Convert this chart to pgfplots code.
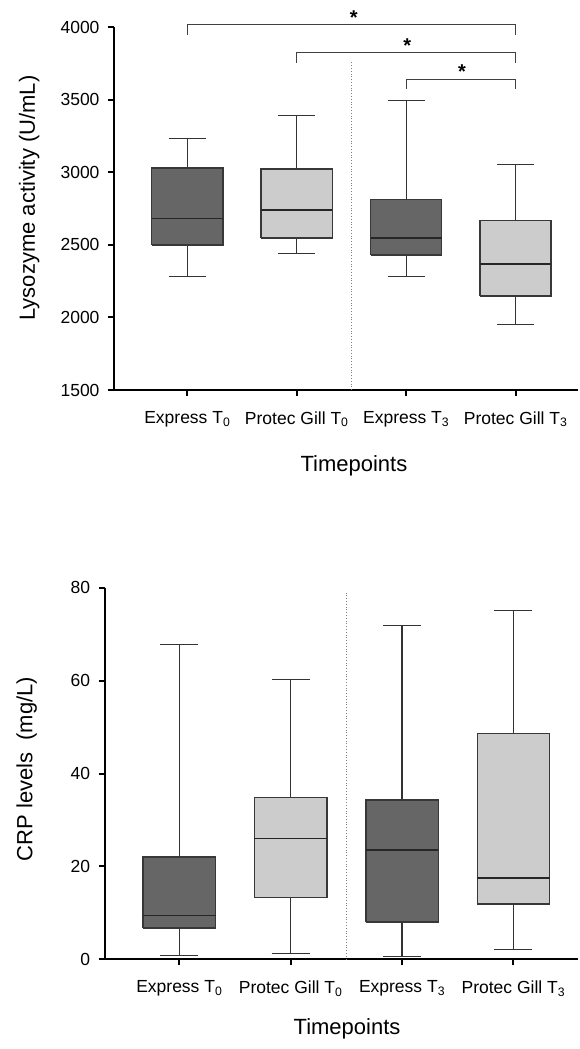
\documentclass[border=0pt]{standalone}
\usepackage{fontspec}
\setmainfont{Liberation Sans}
\usepackage{pgfplots}
\pgfplotsset{compat=1.18}
\definecolor{darkbox}{HTML}{666666}
\definecolor{lightbox}{HTML}{CCCCCC}
\definecolor{edge}{HTML}{383838}
\begin{document}
\begin{tikzpicture}
\path[use as bounding box] (0bp,0bp) rectangle (580bp,-1049bp);
\pgfplotsset{
  common/.style={
    scale only axis,
    clip=false,
    unbounded coords=jump,
    axis x line=bottom, axis y line=left,
    x axis line style={-}, y axis line style={-},
    axis line style={line width=2bp, black},
    tick align=outside,
    xtick pos=left, ytick pos=left,
    major tick length=6bp,
    tick style={line width=2bp, black},
    xtick={1,2,3,4},
    xticklabels={Express T\textsubscript{0}, Protec Gill T\textsubscript{0}, Express T\textsubscript{3}, Protec Gill T\textsubscript{3}},
    ticklabel style={font=\fontsize{17.5bp}{20bp}\selectfont},
    xticklabel style={yshift=-12bp},
    yticklabel style={xshift=-5bp},
    /pgf/number format/assume math mode=true,
    /pgf/number format/1000 sep={},
    label style={font=\fontsize{22bp}{26bp}\selectfont},
  },
  whisk/.style={black!80, line width=1.1bp, mark=none},
  boxd/.style={draw=edge, fill=darkbox, line width=1.4bp, mark=none, line join=miter},
  boxl/.style={draw=edge, fill=lightbox, line width=1.4bp, mark=none, line join=miter},
  med/.style={black!85, line width=1.6bp, mark=none},
}
% ---------------- top panel ----------------
\begin{axis}[common,
  at={(114bp,-390bp)}, anchor=south west,
  width=464bp, height=363bp,
  xmin=0.33, xmax=4.57, ymin=1500, ymax=4000,
  ytick={1500,2000,2500,3000,3500,4000},
  ylabel={Lysozyme activity (U/mL)},
  ylabel style={at={(axis description cs:-0.183,0.529)}, anchor=center},
  xlabel={Timepoints},
  xlabel style={at={(axis description cs:0.517,-0.208)}, anchor=center},
]
\addplot[gray, dotted, line width=0.8bp] coordinates {(2.5,1500) (2.5,3760)};
% Express T0: 2280 / 2498 / 2681 / 3028 / 3232
\addplot[whisk] coordinates {(1,3028)(1,3232) (nan,nan) (0.83,3232)(1.17,3232) (nan,nan) (1,2498)(1,2280) (nan,nan) (0.83,2280)(1.17,2280)};
\addplot[boxd] coordinates {(0.675,2498)(1.325,2498)(1.325,3028)(0.675,3028)(0.675,2498)};
\addplot[med] coordinates {(0.675,2681)(1.325,2681)};
% Protec Gill T0: 2440 / 2546 / 2739 / 3021 / 3390
\addplot[whisk] coordinates {(2,3021)(2,3390) (nan,nan) (1.83,3390)(2.17,3390) (nan,nan) (2,2546)(2,2440) (nan,nan) (1.83,2440)(2.17,2440)};
\addplot[boxl] coordinates {(1.675,2546)(2.325,2546)(2.325,3021)(1.675,3021)(1.675,2546)};
\addplot[med] coordinates {(1.675,2739)(2.325,2739)};
% Express T3: 2282 / 2431 / 2548 / 2814 / 3491
\addplot[whisk] coordinates {(3,2814)(3,3491) (nan,nan) (2.83,3491)(3.17,3491) (nan,nan) (3,2431)(3,2282) (nan,nan) (2.83,2282)(3.17,2282)};
\addplot[boxd] coordinates {(2.675,2431)(3.325,2431)(3.325,2814)(2.675,2814)(2.675,2431)};
\addplot[med] coordinates {(2.675,2548)(3.325,2548)};
% Protec Gill T3: 1954 / 2147 / 2369 / 2667 / 3050
\addplot[whisk] coordinates {(4,2667)(4,3050) (nan,nan) (3.83,3050)(4.17,3050) (nan,nan) (4,2147)(4,1954) (nan,nan) (3.83,1954)(4.17,1954)};
\addplot[boxl] coordinates {(3.675,2147)(4.325,2147)(4.325,2667)(3.675,2667)(3.675,2147)};
\addplot[med] coordinates {(3.675,2369)(4.325,2369)};
% significance brackets
\addplot[black!75, line width=1bp] coordinates {(1,3945) (1,4014) (4,4014) (4,3945)};
\addplot[black!75, line width=1bp] coordinates {(2,3755) (2,3823) (4,3823) (4,3755)};
\addplot[black!75, line width=1bp] coordinates {(3,3573) (3,3640) (4,3640) (4,3573)};
\node[font=\fontsize{20bp}{20bp}\selectfont\bfseries, anchor=base] at (axis cs:2.52,4017) {*};
\node[font=\fontsize{20bp}{20bp}\selectfont\bfseries, anchor=base] at (axis cs:3.01,3827) {*};
\node[font=\fontsize{20bp}{20bp}\selectfont\bfseries, anchor=base] at (axis cs:3.51,3648) {*};
\end{axis}
% ---------------- bottom panel ----------------
\begin{axis}[common,
  at={(104.7bp,-959.3bp)}, anchor=south west,
  width=473.3bp, height=371.6bp,
  xmin=0.33, xmax=4.58, ymin=0, ymax=80,
  ytick={0,20,40,60,80},
  ylabel={CRP levels~~(mg/L)},
  ylabel style={at={(axis description cs:-0.165,0.512)}, anchor=center},
  xlabel={Timepoints},
  xlabel style={at={(axis description cs:0.512,-0.188)}, anchor=center},
]
\addplot[gray, dotted, line width=0.8bp] coordinates {(2.5,0) (2.5,78.9)};
% Express T0: 0.9 / 6.7 / 9.4 / 22.0 / 67.8
\addplot[whisk] coordinates {(1,22.0)(1,67.8) (nan,nan) (0.83,67.8)(1.17,67.8) (nan,nan) (1,6.7)(1,0.9) (nan,nan) (0.83,0.9)(1.17,0.9)};
\addplot[boxd] coordinates {(0.675,6.7)(1.325,6.7)(1.325,22.0)(0.675,22.0)(0.675,6.7)};
\addplot[med] coordinates {(0.675,9.4)(1.325,9.4)};
% Protec Gill T0: 1.2 / 13.3 / 26.0 / 34.9 / 60.3
\addplot[whisk] coordinates {(2,34.9)(2,60.3) (nan,nan) (1.83,60.3)(2.17,60.3) (nan,nan) (2,13.3)(2,1.2) (nan,nan) (1.83,1.2)(2.17,1.2)};
\addplot[boxl] coordinates {(1.675,13.3)(2.325,13.3)(2.325,34.9)(1.675,34.9)(1.675,13.3)};
\addplot[med] coordinates {(1.675,26.0)(2.325,26.0)};
% Express T3: 0.6 / 8.0 / 23.5 / 34.3 / 71.9
\addplot[whisk] coordinates {(3,34.3)(3,71.9) (nan,nan) (2.83,71.9)(3.17,71.9) (nan,nan) (3,8.0)(3,0.6) (nan,nan) (2.83,0.6)(3.17,0.6)};
\addplot[boxd] coordinates {(2.675,8.0)(3.325,8.0)(3.325,34.3)(2.675,34.3)(2.675,8.0)};
\addplot[med] coordinates {(2.675,23.5)(3.325,23.5)};
% Protec Gill T3: 2.1 / 11.9 / 17.5 / 48.6 / 75.0
\addplot[whisk] coordinates {(4,48.6)(4,75.0) (nan,nan) (3.83,75.0)(4.17,75.0) (nan,nan) (4,11.9)(4,2.1) (nan,nan) (3.83,2.1)(4.17,2.1)};
\addplot[boxl] coordinates {(3.675,11.9)(4.325,11.9)(4.325,48.6)(3.675,48.6)(3.675,11.9)};
\addplot[med] coordinates {(3.675,17.5)(4.325,17.5)};
\end{axis}
\end{tikzpicture}
\end{document}
